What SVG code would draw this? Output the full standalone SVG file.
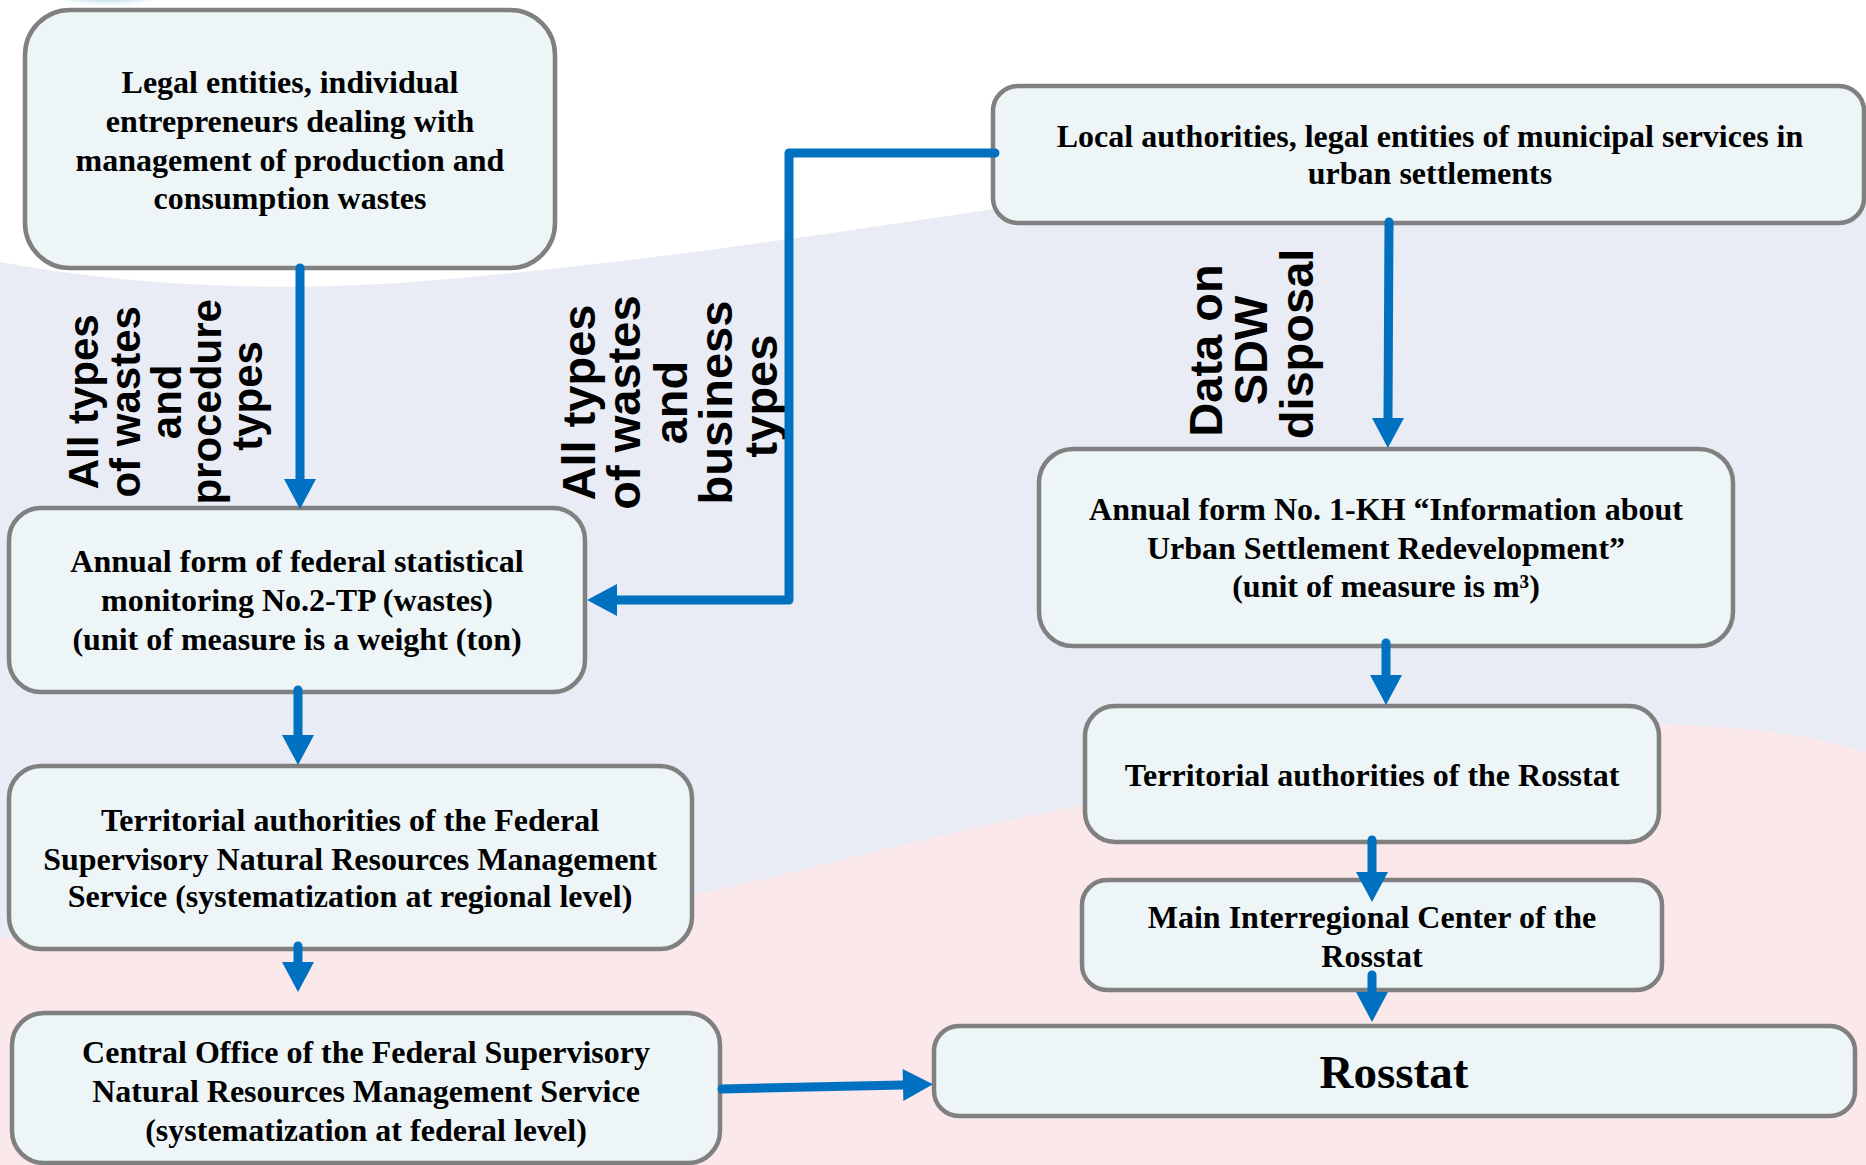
<svg xmlns="http://www.w3.org/2000/svg" width="1866" height="1165" viewBox="0 0 1866 1165">
<defs>
<radialGradient id="teal" cx="0.5" cy="0.5" r="0.5">
<stop offset="0" stop-color="#3a95aa"/>
<stop offset="0.6" stop-color="#7cbcca"/>
<stop offset="1" stop-color="#ffffff" stop-opacity="0"/>
</radialGradient>
<marker id="ah" markerUnits="userSpaceOnUse" markerWidth="40" markerHeight="40" refX="0" refY="0" viewBox="0 -20 40 40" orient="auto" overflow="visible">
<path d="M0,-16 L30,0 L0,16 Z" fill="#0070c0"/>
</marker>
</defs>
<style>
.box{fill:#edf5f7;stroke:#808080;stroke-width:4.5}
.t{font-family:"Liberation Serif","Times New Roman",serif;font-weight:bold;font-size:32px;fill:#000;text-anchor:middle}
.big{font-size:47px}
.v{font-family:"Liberation Sans",Arial,sans-serif;font-weight:bold;fill:#000;text-anchor:middle}
.c{fill:none;stroke:#0070c0;stroke-width:9;stroke-linecap:round;stroke-linejoin:round}
</style>
<g id="background">
<rect x="0" y="0" width="1866" height="1165" fill="#ffffff"/>
<path d="M0,262 C120,284 250,292 400,283 C600,268 800,238 1000,208 C1300,165 1600,150 1866,150 L1866,1165 L0,1165 Z" fill="#e9ecf5"/>
<path d="M0,938 C300,935 550,920 693,895 C800,872 900,842 1082,805 C1300,765 1500,722 1650,724 C1760,726 1820,738 1866,752 L1866,1165 L0,1165 Z" fill="#fae8ea"/>
<ellipse cx="108" cy="-22" rx="90" ry="30" fill="url(#teal)"/>
</g>
<g id="label-procedure">
<text class="v" font-size="42" transform="translate(0,396) rotate(-90)">
<tspan x="0" y="98">All types</tspan>
<tspan x="0" y="140">of wastes</tspan>
<tspan x="0" y="181">and</tspan>
<tspan x="0" y="221">procedure</tspan>
<tspan x="0" y="262">types</tspan>
</text>
</g>
<g id="label-business">
<text class="v" font-size="47" transform="translate(0,396) rotate(-90)">
<tspan x="0" y="595">All types</tspan>
<tspan x="0" y="640">of wastes</tspan>
<tspan x="0" y="687">and</tspan>
<tspan x="0" y="732">business</tspan>
<tspan x="0" y="777">types</tspan>
</text>
</g>
<g id="label-sdw">
<text class="v" font-size="47" transform="translate(0,344) rotate(-90)">
<tspan x="0" y="1222">Data on</tspan>
<tspan x="0" y="1267">SDW</tspan>
<tspan x="0" y="1313">disposal</tspan>
</text>
</g>
<g id="node-legal">
<rect class="box" x="25" y="10" width="530" height="258" rx="45"/>
<text class="t"><tspan x="290" y="93">Legal entities, individual</tspan><tspan x="290" y="132">entrepreneurs dealing with</tspan><tspan x="290" y="171">management of production and</tspan><tspan x="290" y="209">consumption wastes</tspan></text>
</g>
<g id="node-form2tp">
<rect class="box" x="9" y="508" width="576" height="184" rx="32"/>
<text class="t"><tspan x="297" y="572">Annual form of federal statistical</tspan><tspan x="297" y="611">monitoring No.2-TP (wastes)</tspan><tspan x="297" y="650">(unit of measure is a weight (ton)</tspan></text>
</g>
<g id="node-local">
<rect class="box" x="993" y="86" width="871" height="137" rx="25"/>
<text class="t"><tspan x="1430" y="147">Local authorities, legal entities of municipal services in</tspan><tspan x="1430" y="184">urban settlements</tspan></text>
</g>
<g id="node-form1kh">
<rect class="box" x="1039" y="449" width="694" height="197" rx="34"/>
<text class="t"><tspan x="1386" y="520">Annual form No. 1-KH “Information about</tspan><tspan x="1386" y="559">Urban Settlement Redevelopment”</tspan><tspan x="1386" y="597">(unit of measure is m³)</tspan></text>
</g>
<g id="node-terr-rosstat">
<rect class="box" x="1085" y="706" width="574" height="136" rx="30"/>
<text class="t" x="1372" y="786">Territorial authorities of the Rosstat</text>
</g>
<g id="node-main-center">
<rect class="box" x="1082" y="880" width="580" height="110" rx="25"/>
<text class="t"><tspan x="1372" y="928">Main Interregional Center of the</tspan><tspan x="1372" y="967">Rosstat</tspan></text>
</g>
<g id="node-rosstat">
<rect class="box" x="934" y="1026" width="921" height="90" rx="25"/>
<text class="t big" x="1394" y="1088">Rosstat</text>
</g>
<g id="node-terr-federal">
<rect class="box" x="9" y="766" width="683" height="183" rx="32"/>
<text class="t"><tspan x="350" y="831">Territorial authorities of the Federal</tspan><tspan x="350" y="870">Supervisory Natural Resources Management</tspan><tspan x="350" y="907">Service (systematization at regional level)</tspan></text>
</g>
<g id="node-central">
<rect class="box" x="12" y="1013" width="708" height="150" rx="32"/>
<text class="t"><tspan x="366" y="1063">Central Office of the Federal Supervisory</tspan><tspan x="366" y="1102">Natural Resources Management Service</tspan><tspan x="366" y="1141">(systematization at federal level)</tspan></text>
</g>
<g id="connectors">
<path class="c" d="M300,268 L300,479" marker-end="url(#ah)"/>
<path class="c" d="M995,153 L789,153 L789,600 L617,600" marker-end="url(#ah)"/>
<path class="c" d="M1389,222 L1388,418" marker-end="url(#ah)"/>
<path class="c" d="M1386,643 L1386,675" marker-end="url(#ah)"/>
<path class="c" d="M1372,840 L1372,872" marker-end="url(#ah)"/>
<path class="c" d="M1372,975 L1372,992" marker-end="url(#ah)"/>
<path class="c" d="M298,690 L298,735" marker-end="url(#ah)"/>
<path class="c" d="M298,946 L298,962" marker-end="url(#ah)"/>
<path class="c" d="M722,1089 L903,1085" marker-end="url(#ah)"/>
</g>
</svg>
